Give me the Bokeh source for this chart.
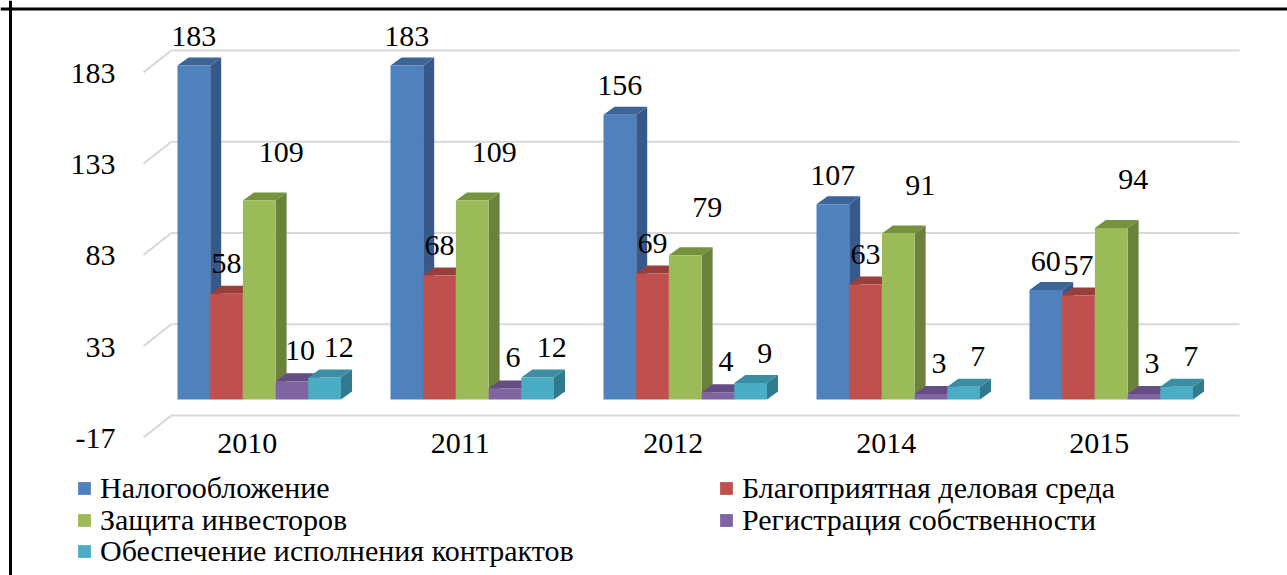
from bokeh.plotting import figure
from bokeh.models import Range1d, Span, Legend, LegendItem
from bokeh.core.properties import value
from bokeh.embed import file_html
from bokeh.resources import INLINE

# ---------------- data ----------------
years = ["2010", "2011", "2012", "2014", "2015"]
series_names = [
    "Налогообложение",
    "Благоприятная деловая среда",
    "Защита инвесторов",
    "Регистрация собственности",
    "Обеспечение исполнения контрактов",
]
taxation = [183, 183, 156, 107, 60]
business_env = [58, 68, 69, 63, 57]
investors = [109, 109, 79, 91, 94]
property_reg = [10, 6, 4, 3, 3]
contracts = [12, 12, 9, 7, 7]
y_ticks = [-17, 33, 83, 133, 183]

series = [taxation, business_env, investors, property_reg, contracts]

# ---------------- styles ----------------
front_colors = ["#4F81BD", "#C0504D", "#9BBB59", "#8064A2", "#4BACC6"]
side_colors = ["#37598A", "#8E3937", "#6A823C", "#5C4878", "#2F7A8E"]
top_colors = ["#3D6496", "#9A3E3B", "#76923C", "#634D82", "#3A8DA3"]
label_dx = [0, 0, 22, 8, 14]          # screen px
label_dy = [-29, -30, -48, -31, -30]  # screen px
FONT_NAME = "Liberation Serif"
FONT = value(FONT_NAME)
NUM_SIZE = "30px"
LEG_SIZE = "30px"

# ---------------- geometry (layout constants) ----------------
W, H = 1287, 575
GROUP_PX = 213.0       # px per category step
PX_PER_UNIT_Y = 1.825  # px per value unit
X0_PX = 258.75         # px of first category centre
ZERO_PX = 399.0        # px (from top) of value 0 on bar fronts

def xu(px):
    return (px - X0_PX) / GROUP_PX

def yu(px):
    return (ZERO_PX - px) / PX_PER_UNIT_Y

BW = 32.7 / GROUP_PX          # bar width
DX = 11.0 / GROUP_PX          # depth in x
DY = 8.0 / PX_PER_UNIT_Y      # depth in y
BACK_DY = 8.3                 # back wall offset (value units)
DIAG_DY = -3.75               # front end of side wall lines
BACK_X0, BACK_X1, DIAG_X0 = xu(171), xu(1239), xu(143)
TICK_X = xu(115)
TICK_DY = -4.3
CAT_DX = -12.0 / GROUP_PX
CAT_Y = yu(443)

p = figure(
    width=W, height=H,
    x_range=Range1d(xu(0), xu(W)),
    y_range=Range1d(yu(H), yu(0)),
    output_backend="svg", toolbar_location=None, title=None,
    min_border=0, x_axis_location=None, y_axis_location=None,
    outline_line_color=None,
)
p.xgrid.visible = False
p.ygrid.visible = False

# wall gridlines (back + left side wall)
n = len(y_ticks)
p.segment(x0=[BACK_X0] * n, y0=[t + BACK_DY for t in y_ticks],
          x1=[BACK_X1] * n, y1=[t + BACK_DY for t in y_ticks],
          line_color="#D9D9D9", line_width=2)
p.segment(x0=[DIAG_X0] * n, y0=[t + DIAG_DY for t in y_ticks],
          x1=[BACK_X0] * n, y1=[t + BACK_DY for t in y_ticks],
          line_color="#D9D9D9", line_width=2)

# y tick labels
p.text(x=[TICK_X] * n, y=[t + TICK_DY for t in y_ticks], text=[str(t) for t in y_ticks],
       text_align="right", text_baseline="middle", text_font=FONT,
       text_font_size=NUM_SIZE, text_color="black")

# 3D bars
nser = len(series)
for j, vals in enumerate(series):
    lefts = [i - nser * BW / 2 + j * BW for i in range(len(years))]
    rights = [l + BW for l in lefts]
    side_xs = [[r, r + DX, r + DX, r] for r in rights]
    side_ys = [[0, DY, v + DY, v] for v in vals]
    top_xs = [[l, l + DX, r + DX, r] for l, r in zip(lefts, rights)]
    top_ys = [[v, v + DY, v + DY, v] for v in vals]
    p.patches(xs=side_xs, ys=side_ys, fill_color=side_colors[j], line_color=None)
    p.patches(xs=top_xs, ys=top_ys, fill_color=top_colors[j], line_color=None)
    p.quad(left=lefts, right=rights, bottom=[0] * len(vals), top=vals,
           fill_color=front_colors[j], line_color=None)

# data labels
for j, vals in enumerate(series):
    centers = [i - nser * BW / 2 + (j + 0.5) * BW for i in range(len(years))]
    p.text(x=centers, y=vals, text=[str(v) for v in vals],
           x_offset=label_dx[j], y_offset=label_dy[j],
           text_align="center", text_baseline="middle", text_font=FONT,
           text_font_size=NUM_SIZE, text_color="black")

# category labels
p.text(x=[i + CAT_DX for i in range(len(years))], y=[CAT_Y] * len(years), text=years,
       text_align="center", text_baseline="middle", text_font=FONT,
       text_font_size=NUM_SIZE, text_color="black")

# legend: two columns, one legend box per entry; swatch renderers hold no visible point
nan = float("nan")
legend_rs = [p.scatter(x=[nan], y=[nan], marker="square", size=12,
                       fill_color=c, line_color=None) for c in front_colors]

ITEM_H = 34
legend_slots = {0: (68, 488), 2: (68, 520), 4: (68, 551), 1: (710, 488), 3: (710, 520)}

for k, (lx, cy) in legend_slots.items():
    leg = Legend(items=[LegendItem(label=series_names[k], renderers=[legend_rs[k]])],
                 location=(lx, H - (cy + ITEM_H / 2)))
    leg.glyph_width = 32
    leg.glyph_height = ITEM_H
    leg.label_standoff = 0
    leg.padding = 0
    leg.margin = 0
    leg.spacing = 0
    leg.border_line_color = None
    leg.background_fill_alpha = 0
    leg.label_text_font = FONT_NAME
    leg.label_text_font_size = LEG_SIZE
    leg.label_text_color = "black"
    p.add_layout(leg)

# frame border (left and top)
p.add_layout(Span(location=xu(10), dimension="height", line_color="black", line_width=3))
p.add_layout(Span(location=yu(8.5), dimension="width", line_color="black", line_width=3))

open("out.html", "w").write(file_html(p, INLINE))
